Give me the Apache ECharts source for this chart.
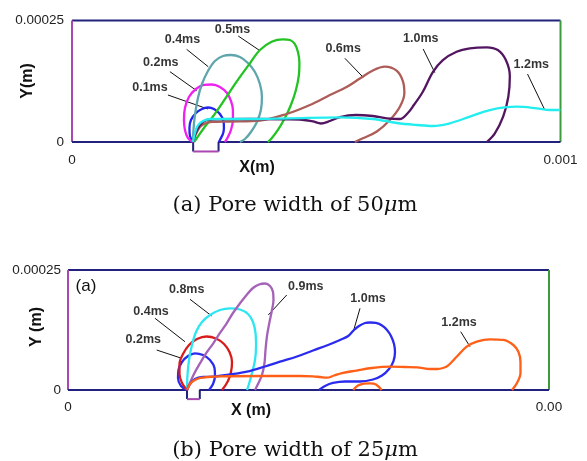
<!DOCTYPE html>
<html><head><meta charset="utf-8">
<script src="https://cdn.jsdelivr.net/npm/echarts@6/dist/echarts.min.js"></script>
<style>html,body{margin:0;padding:0;background:#fff}#c{width:587px;height:461px}</style>
</head><body><div id="c"></div><script>
// Interface contours of a bubble leaving a pore; coordinates in micrometres [x, y].

// Axis tick labels (values shown in metres)
const xTickLabelsA = ['0', '0.001'];
const xTickLabelsB = ['0', '0.00'];
const yTickLabels = ['0', '0.00025'];
const xMax = 1000;
const yMax = 250;

// Pore geometry [left, right, depth]
const poreA = [248, 300, 19.5];
const poreB = [247.4, 274, 19];

// ---- Pore width 50 um ----
const a01 = [[247.6,0],[241.5,12.3],[240.4,28.8],[243.5,45.3],[253.7,59.7],[266.0,67.9],[278.3,71.0],[290.6,67.9],[302.8,57.6],[310.0,43.2],[311.0,28.8],[309.0,16.5],[302.8,4.1],[300.8,0]];
const a02 = [[247.6,0],[237.4,8.2],[231.2,24.7],[229.2,45.3],[231.2,70.0],[239.4,92.6],[253.7,109.1],[270.1,117.3],[286.5,118.3],[302.8,113.2],[317.2,100.8],[325.4,84.4],[329.4,65.8],[329.4,45.3],[325.4,24.7],[319.2,10.3],[313.1,0]];
const a04 = [[247.6,0],[248.6,24.7],[251.7,55.6],[257.8,90.5],[266.0,119.3],[278.3,146.1],[292.6,166.7],[309.0,177.0],[325.4,179.0],[343.8,174.9],[360.1,162.6],[374.5,144.0],[384.7,119.3],[388.8,92.6],[386.7,65.8],[378.6,41.2],[366.3,20.6],[354.0,6.2],[343.8,0]];
const a05 = [[249.6,0],[255.8,8.2],[270.1,28.8],[285.9,48.8],[309.6,82.9],[337.0,124.1],[364.2,161.9],[384.7,189.3],[408.6,206.4],[431.8,211.3],[446.1,209.9],[456.3,201.6],[462.5,185.2],[465.5,164.6],[464.5,137.9],[458.4,107.0],[448.1,76.1],[435.8,49.4],[421.5,24.7],[409.2,8.2],[401.1,0]];
const a06 = [[247.6,0],[253.7,16.5],[261.9,30.9],[272.1,38.1],[286.5,41.2],[323.3,42.2],[384.7,44.2],[439.3,57.6],[487.0,76.1],[527.9,96.7],[562.1,113.2],[589.3,130.7],[613.9,146.1],[640.5,154.9],[664.4,146.7],[677.3,125.5],[680.4,100.8],[671.2,72.6],[650.7,45.3],[624.1,21.6],[595.5,7.6],[579.1,0]];
const a10 = [[247.6,0],[255.8,24.7],[268.1,41.2],[282.4,46.3],[364.2,47.3],[466.5,46.3],[493.1,42.2],[509.5,38.1],[527.9,43.2],[548.4,51.4],[581.1,55.6],[615.9,53.5],[644.6,48.8],[671.2,47.3],[687.5,59.7],[699.8,76.1],[718.2,103.5],[738.7,144.0],[759.2,168.7],[787.2,185.8],[814.4,192.8],[848.6,194.9],[871.7,189.3],[888.1,168.7],[896.3,135.8],[893.2,93.2],[882.6,52.1],[865.6,17.9],[849.2,0]];
const a12 = [[247.6,0],[251.7,18.5],[257.8,34.0],[268.1,43.2],[284.4,47.3],[364.2,47.3],[446.1,48.8],[548.4,50.8],[615.9,47.3],[665.0,39.1],[705.9,35.0],[738.7,32.9],[773.5,38.5],[814.4,52.1],[855.3,65.8],[910.6,72.6],[951.5,69.3],[978.1,65.8],[999.6,65.8]];

const timeLabelsA = ['0.1ms','0.2ms','0.4ms','0.5ms','0.6ms','1.0ms','1.2ms'];
const labelPosA = [[159.6,111.1],[181.7,163.6],[226.1,209.9],[328.4,230.5],[555.1,191.4],[714.1,211.9],[940.2,159.1]];
const leadersA = [
  [[196.4,96.7],[278.3,67.9]],
  [[200.5,144.7],[255.2,105.6]],
  [[234.7,190.7],[278.9,154.9]],
  [[340.3,218.1],[384.7,187.9]],
  [[558.6,172.2],[596.1,133.1]],
  [[718.8,191.4],[742.8,142.6]],
  [[932.5,139.9],[967.9,65.8]]
];

// ---- Pore width 25 um ----
const b02 = [[247.4,0],[234.9,8.3],[228.7,25],[229.7,41.7],[237.0,58.3],[249.5,70.8],[264.0,76.5],[280.7,72.9],[295.2,62.5],[304.6,45.8],[305.6,29.2],[301.5,12.5],[293.1,0]];
const b04 = [[247.4,0],[237.0,14.6],[231.8,33.3],[231.8,54.2],[239.1,75],[251.6,93.8],[268.2,106.3],[287.9,111.5],[307.7,107.3],[324.3,95.8],[335.8,79.2],[341.0,58.3],[338.9,37.5],[332.6,18.8],[320.2,0]];
const b08 = [[247.4,0],[248.4,31.3],[251.6,62.5],[257.8,93.8],[266.1,120.8],[278.6,141.7],[295.2,156.3],[316.0,166.7],[336.8,170.2],[357.6,167.7],[374.2,158.3],[384.6,141.7],[389.8,118.8],[390.9,91.7],[388.8,62.5],[382.5,35.4],[376.3,12.5],[372.1,0]];
const b09 = [[247.4,0],[259.9,29.2],[274.4,55.6],[289.0,79.2],[302.1,97.3],[316.0,118.8],[329.9,139.0],[343.0,160.4],[357.6,180.6],[372.1,199.0],[384.6,212.5],[397.1,219.8],[409.6,221.9],[420.0,216.7],[426.2,204.2],[427.2,187.5],[424.1,166.7],[418.9,141.7],[413.7,112.5],[410.6,83.3],[408.5,56.3],[403.3,31.3],[395.0,12.5],[388.8,0]];
const b10 = [[247.4,0],[253.6,12.5],[264.0,22.9],[280.7,27.1],[301.5,27.7],[336.8,32.3],[372.1,38.1],[409.6,49.0],[440.7,59.0],[476.1,69.8],[509.4,82.3],[540.5,93.8],[565.5,104.2],[582.7,112.5],[594.6,125],[605.0,133.3],[617.5,139.6],[627.9,140.6],[640.3,139.6],[652.8,134.4],[663.2,125],[671.5,112.5],[677.8,95.8],[679.8,79.2],[676.7,60.4],[667.4,43.8],[652.8,30.2],[634.1,21.9],[607.1,17.7],[575.9,17.7],[550.9,14.6],[534.3,8.3],[521.8,0]];
const b12 = [[247.4,0],[253.6,12.5],[262.0,19.8],[274.4,25],[291.1,27.1],[316.0,28.5],[399.2,29.2],[482.3,29.2],[509.4,28.5],[523.9,27.1],[538.5,25.6],[553.0,30.2],[569.6,35.4],[600.2,40.6],[632.0,45.8],[669.4,48.5],[700.6,47.9],[725.6,47.3],[752.6,43.8],[767.2,43.8],[779.6,45.8],[790.0,51.0],[808.1,69.4],[828.9,90.2],[849.7,100.6],[877.3,105.6],[905.0,104.2],[925.8,93.8],[936.6,79.2],[940.7,58.3],[940.7,35.4],[933.5,14.6],[923.1,0]];
const b12drop = [[593.1,0],[602.9,9.4],[615.4,13.5],[627.9,14.0],[640.3,11.5],[652.2,0]];

const timeLabelsB = ['0.2ms','0.4ms','0.8ms','0.9ms','1.0ms','1.2ms'];
const labelPosB = [[156.5,104.2],[172.6,162.5],[246.8,208.3],[494.4,214.6],[623.7,189.6],[812.9,139.6]];
const leadersB = [
  [[184.4,83.3],[236.4,66.0]],
  [[180.9,149.4],[243.2,100.6]],
  [[253.6,189.0],[298.8,154.2]],
  [[454.7,197.9],[416.4,156.3]],
  [[607.1,170.2],[593.1,121.5]],
  [[816.4,121.5],[835.8,90.2]]
];

// ---- styling ----
const NAVY = '#22227c';
const LEFT_WALL = '#a848b0';
const RIGHT_WALL = '#3c9c3c';
const LABEL_FONT = 'Arial, "Liberation Sans", Helvetica, sans-serif';
const CAPTION_FONT = '"DejaVu Serif", "Liberation Serif", serif';

function seg(data, color, g, width, z, smooth) {
  return {
    type: 'line', xAxisIndex: g, yAxisIndex: g, data: data,
    showSymbol: false, symbol: 'none', smooth: smooth || false, clip: false, silent: true,
    lineStyle: { color: color, width: width }, z: z
  };
}

function frame(pore, g) {
  const [pl, pr, pd] = pore;
  return [
    seg([[0, yMax], [xMax, yMax]], NAVY, g, 2, 2),
    seg([[0, 0], [0, yMax]], LEFT_WALL, g, 2, 2),
    seg([[xMax, 0], [xMax, yMax]], RIGHT_WALL, g, 2, 2),
    seg([[0, 0], [pl, 0], [pl, -pd]], NAVY, g, 2, 2),
    seg([[pr, -pd], [pr, 0], [xMax, 0]], NAVY, g, 2, 2),
    seg([[pl, -pd], [pr, -pd]], LEFT_WALL, g, 2, 2)
  ];
}

function tags(names, pos, leaders, g) {
  const out = leaders.map(l => seg(l, '#111', g, 1, 3));
  out.push({
    type: 'scatter', xAxisIndex: g, yAxisIndex: g, symbolSize: 0, silent: true, z: 5,
    data: names.map((n, i) => ({ name: n, value: pos[i] })),
    label: { show: true, position: 'inside', formatter: p => p.name,
      color: '#000', fontWeight: 'bold', fontSize: 12.5, fontFamily: LABEL_FONT }
  });
  return out;
}

const curvesA = [
  [a01, '#2323ee'], [a02, '#f020f0'], [a04, '#5ea6ac'], [a05, '#22c322'],
  [a06, '#ad5c57'], [a10, '#521660'], [a12, '#22eef0']
];
const curvesB = [
  [b02, '#2b2bf0'], [b04, '#d81c1c'], [b08, '#2ee6f2'], [b09, '#a463b8'],
  [b10, '#2b2bef'], [b12, '#ff5f16'], [b12drop, '#ff5f16']
];

const series = []
  .concat(frame(poreA, 0), frame(poreB, 1))
  .concat(curvesA.map((c, i) => seg(c[0], c[1], 0, 2.3, 4 + i * 0.01, 0.35)))
  .concat(curvesB.map((c, i) => seg(c[0], c[1], 1, 2.3, 4 + i * 0.01, 0.35)))
  .concat(tags(timeLabelsA, labelPosA, leadersA, 0))
  .concat(tags(timeLabelsB, labelPosB, leadersB, 1));

function xAxis(g, labels, margin) {
  return {
    type: 'value', gridIndex: g, min: 0, max: xMax, interval: xMax,
    axisLine: { show: false }, axisTick: { show: false }, splitLine: { show: false },
    axisLabel: { margin: margin, fontSize: 13.5, color: '#222', fontFamily: LABEL_FONT,
      formatter: (v, i) => labels[i] }
  };
}
function yAxis(g, margin) {
  return {
    type: 'value', gridIndex: g, min: 0, max: yMax, interval: yMax,
    axisLine: { show: false }, axisTick: { show: false }, splitLine: { show: false },
    axisLabel: { margin: margin, fontSize: 13.5, color: '#222', fontFamily: LABEL_FONT,
      formatter: (v, i) => yTickLabels[i] }
  };
}

function txt(text, x, y, font, rot) {
  return { type: 'text', x: x, y: y, rotation: rot || 0, silent: true,
    style: { text: text, font: font, fill: '#111', textAlign: 'center', textVerticalAlign: 'middle' } };
}
function caption(text, x, y) {
  return {
    type: 'text', x: x, y: y, silent: true,
    style: { text: text, font: '21px ' + CAPTION_FONT, fill: '#111',
      textAlign: 'center', textVerticalAlign: 'middle',
      rich: { u: { font: 'italic 21px ' + CAPTION_FONT } } }
  };
}

const chart = echarts.init(document.getElementById('c'), null, { renderer: 'canvas' });
chart.setOption({
  animation: false,
  backgroundColor: '#ffffff',
  grid: [
    { left: 72, top: 20.5, width: 488.5, height: 121.5 },
    { left: 68, top: 270, width: 481, height: 120 }
  ],
  xAxis: [xAxis(0, xTickLabelsA, 11), xAxis(1, xTickLabelsB, 10)],
  yAxis: [yAxis(0, 8), yAxis(1, 7)],
  series: series,
  graphic: [
    txt('X(m)', 257, 168, 'bold 16px ' + LABEL_FONT),
    txt('Y(m)', 28, 81, 'bold 16px ' + LABEL_FONT, Math.PI / 2),
    txt('X (m)', 251, 411, 'bold 16px ' + LABEL_FONT),
    txt('Y (m)', 37, 327, 'bold 16px ' + LABEL_FONT, Math.PI / 2),
    txt('(a)', 86, 286, '17px ' + LABEL_FONT),
    caption('(a) Pore width of 50{u|μ}m', 295, 206),
    caption('(b) Pore width of 25{u|μ}m', 295, 451)
  ]
});
</script></body></html>
